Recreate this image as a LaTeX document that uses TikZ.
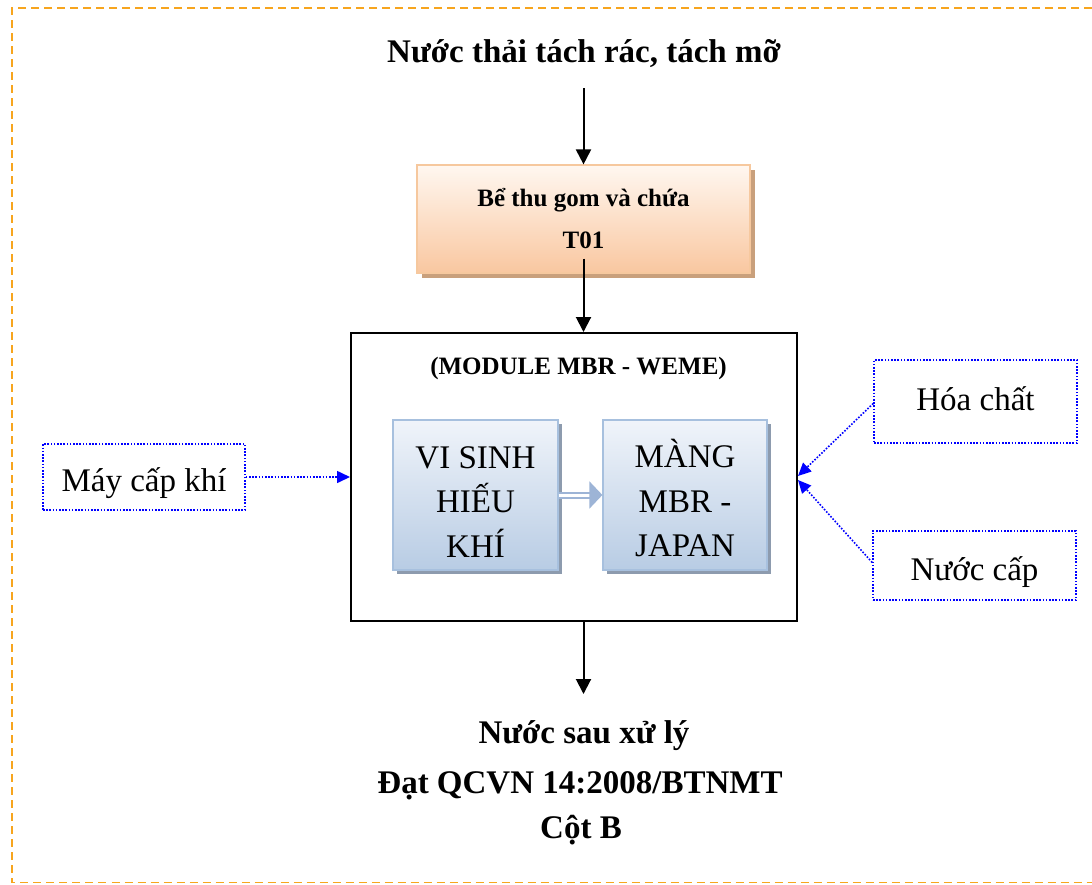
\documentclass[tikz,border=0pt]{standalone}
\usepackage{fontspec}
\setmainfont{Liberation Serif}
\usetikzlibrary{arrows.meta,shadows,calc}
\definecolor{frameor}{HTML}{F7A51E}
\definecolor{peachtop}{HTML}{FFF7F0}
\definecolor{peachbot}{HTML}{F9C7A0}
\definecolor{peachborder}{HTML}{F6C89E}
\definecolor{peachshadow}{HTML}{C9A07C}
\definecolor{bluetop}{HTML}{F0F4FA}
\definecolor{bluebot}{HTML}{B8CCE4}
\definecolor{blueborder}{HTML}{A7C0DE}
\definecolor{blueshadow}{HTML}{8D9BAE}
\definecolor{dotblue}{HTML}{0000FF}
\definecolor{linkblue}{HTML}{9DB4D6}
\begin{document}
\begin{tikzpicture}[x=1pt,y=-1pt,
  bigbold/.style={font=\bfseries\fontsize{33}{42}\selectfont, inner sep=0pt},
  midbold/.style={font=\bfseries\fontsize{25}{42}\selectfont, inner sep=0pt, align=center},
  flow/.style={line width=2pt, -{Triangle[length=15pt,width=15pt]}},
  tankbox/.style={rectangle, draw=peachborder, line width=1.2pt, top color=peachtop, bottom color=peachbot,
     minimum width=333pt, minimum height=108pt, inner sep=0pt,
     drop shadow={shadow xshift=5pt, shadow yshift=-5pt, fill=peachshadow, opacity=1}},
  procbox/.style={rectangle, draw=blueborder, line width=1.2pt, top color=bluetop, bottom color=bluebot,
     minimum width=165pt, minimum height=150pt, inner sep=0pt,
     drop shadow={shadow xshift=4pt, shadow yshift=-4pt, fill=blueshadow, opacity=1}},
  proctext/.style={inner sep=0pt, align=center, font=\fontsize{33}{44.5}\selectfont},
  feedbox/.style={rectangle, draw=dotblue, line width=1.6pt, dash pattern=on 1.6pt off 1.6pt,
     inner sep=0pt, font=\fontsize{33}{40}\selectfont},
  feed/.style={draw=dotblue, line width=1.6pt, dash pattern=on 1.6pt off 1.6pt,
     -{Triangle[length=13pt,width=12pt,fill=dotblue]}},
  link/.style={draw=linkblue, line width=2pt, double=white, double distance=3pt,
     -{Triangle[length=13pt,width=27pt,fill=linkblue]}}
]
\useasboundingbox (0,0) rectangle (1092,884);
% frame
\draw[frameor, line width=1.6pt, dash pattern=on 8pt off 5pt] (1092,8) -- (12,8) -- (12,882.5) -- (1092,882.5);

% title
\node[bigbold, anchor=base] (title) at (584,62) {Nước thải tách rác, tách mỡ};

% tank
\node[tankbox] (t01) at (583.5,219) {};
\node[midbold, anchor=base] (t01a) at (583.5,206) {Bể thu gom và chứa};
\node[midbold, anchor=base] (t01b) at (583.5,248) {T01};

% module
\node[rectangle, draw=black, line width=2pt, minimum width=446pt, minimum height=288pt, inner sep=0pt] (module) at (574,477) {};
\node[midbold, anchor=base] (modtitle) at (578.5,374) {(MODULE MBR - WEME)};

\node[procbox] (vs) at (475.5,495) {};
\node[proctext] (vst) at ([yshift=-7pt]vs.center) {VI SINH\\HIẾU\\KHÍ};
\node[procbox, minimum width=164pt] (mbr) at (685,495) {};
\node[proctext] (mbrt) at ([yshift=-3pt]mbr.center) {MÀNG\\MBR -\\JAPAN};

% feeds
\node[feedbox, minimum width=202pt, minimum height=66pt, text height=30pt, text depth=0.6pt] (may) at (144,477) {Máy cấp khí};
\node[feedbox, minimum width=203pt, minimum height=83pt, text height=24pt, text depth=7pt] (hoa) at (975.5,401.5) {Hóa chất};
\node[feedbox, minimum width=203pt, minimum height=69pt, text height=30pt, text depth=1pt] (nuoc) at (974.5,565.5) {Nước cấp};

% outputs
\node[bigbold, anchor=base] (out1) at (584,743) {Nước sau xử lý};
\node[bigbold, anchor=base] (out2) at (580,793) {Đạt QCVN 14:2008/BTNMT};
\node[bigbold, anchor=base] (out3) at (581,838) {Cột B};

% connectors
\draw[flow] ([yshift=-26pt]title.base -| t01.north) -- (t01.north);
\draw[flow] ([yshift=15pt]t01.south) -- (module.north -| t01.south);
\draw[flow] (module.south -| t01.south) -- ([yshift=-72pt]module.south -| t01.south);
\draw[link] (vs.east) -- (mbr.west);
\draw[feed] (may.east) -- (module.west |- may.east);
\draw[feed] ([yshift=-2pt]hoa.west) -- ([yshift=1pt]module.east);
\draw[feed] ([yshift=3pt]nuoc.west) -- ([yshift=-3pt]module.east);
\end{tikzpicture}
\end{document}
